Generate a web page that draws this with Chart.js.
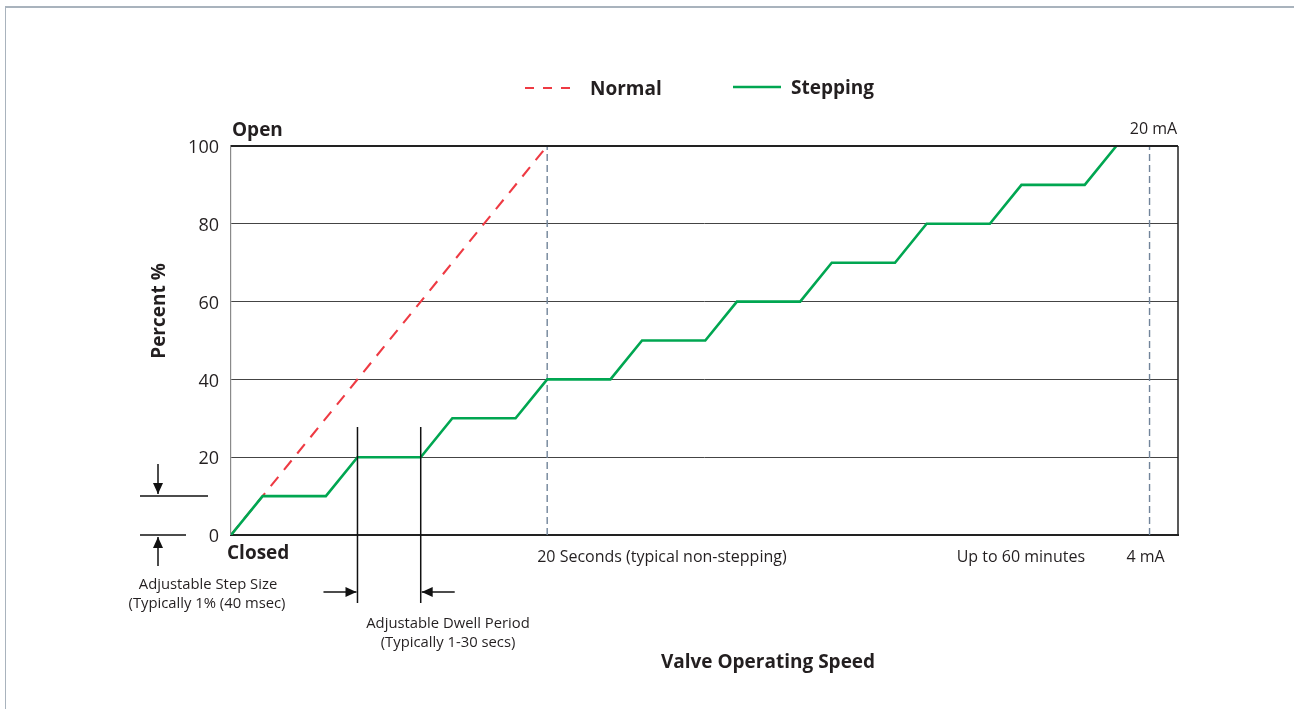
<!DOCTYPE html>
<html>
<head>
<meta charset="utf-8">
<script src="https://cdn.jsdelivr.net/npm/chart.js@4.4.1/dist/chart.umd.min.js"></script>
<style>
  body { margin: 0; background: #fff; }
  #frame { position: absolute; left: 5px; top: 6px; width: 1289px; height: 703px;
           border-top: 2px solid #a9b3bd; border-left: 1px solid #a9b3bd; box-sizing: border-box; }
  #c { position: absolute; left: 0; top: 0; }
</style>
</head>
<body>
<div id="frame"></div>
<canvas id="c" width="1294" height="709"></canvas>
<script>
// stepping curve (x in dwell units, y in percent)
const stepX = [0, 1, 3, 4, 6, 7, 9, 10, 12, 13, 15, 16, 18, 19, 21, 22, 24, 25, 27, 28];
const stepY = [0, 10, 10, 20, 20, 30, 30, 40, 40, 50, 50, 60, 60, 70, 70, 80, 80, 90, 90, 100];
// normal (non-stepping) ramp
const normalX = [0, 10];
const normalY = [0, 100];
// dashed markers: 20 seconds, 4-20 mA
const markerX = [10, 29.05];
const yTicks = [0, 20, 40, 60, 80, 100];
const xMax = 29.95;

const FONT = '"Open Sans", "Noto Sans", sans-serif';
const INK = '#231f20';

const pts = (xs, ys) => xs.map((x, i) => ({ x: x, y: ys[i] }));

const markerSets = markerX.map(x => ({
  label: 'marker',
  data: [{ x: x, y: 0 }, { x: x, y: 100 }],
  showLine: true,
  borderColor: '#71849a',
  borderWidth: 1.4,
  borderDash: [7, 4],
  pointRadius: 0,
  order: 3
}));

function arrow(ctx, x1, y1, x2, y2) {
  ctx.beginPath();
  ctx.moveTo(x1, y1);
  ctx.lineTo(x2, y2);
  ctx.stroke();
  const a = Math.atan2(y2 - y1, x2 - x1);
  const L = 11, W = 5;
  ctx.beginPath();
  ctx.moveTo(x2, y2);
  ctx.lineTo(x2 - L * Math.cos(a) + W * Math.sin(a), y2 - L * Math.sin(a) - W * Math.cos(a));
  ctx.lineTo(x2 - L * Math.cos(a) - W * Math.sin(a), y2 - L * Math.sin(a) + W * Math.cos(a));
  ctx.closePath();
  ctx.fill();
}

const extras = {
  id: 'extras',
  afterDraw(chart) {
    const ctx = chart.ctx;
    const xs = chart.scales.x, ys = chart.scales.y;
    const area = chart.chartArea;
    ctx.save();

    // top and right border of plot box
    ctx.strokeStyle = '#222';
    ctx.lineWidth = 2.2;
    ctx.beginPath();
    ctx.moveTo(area.left, area.top);
    ctx.lineTo(area.right, area.top);
    ctx.stroke();
    ctx.lineWidth = 1.5;
    ctx.beginPath();
    ctx.moveTo(area.right, area.top);
    ctx.lineTo(area.right, area.bottom);
    ctx.stroke();

    ctx.fillStyle = INK;
    ctx.strokeStyle = INK;
    ctx.textBaseline = 'middle';

    // legend
    const normal = chart.data.datasets.find(d => d.label === 'Normal');
    const stepping = chart.data.datasets.find(d => d.label === 'Stepping');
    ctx.lineWidth = 2;
    ctx.strokeStyle = normal.borderColor;
    ctx.setLineDash([9, 9]);
    ctx.beginPath(); ctx.moveTo(525, 88); ctx.lineTo(573, 88); ctx.stroke();
    ctx.setLineDash([]);
    ctx.lineWidth = 2.5;
    ctx.strokeStyle = stepping.borderColor;
    ctx.beginPath(); ctx.moveTo(733, 87); ctx.lineTo(781, 87); ctx.stroke();
    ctx.font = 'bold 19px ' + FONT;
    ctx.textAlign = 'left';
    ctx.fillText('Normal', 590, 90);
    ctx.fillText('Stepping', 791, 89);

    // end labels
    ctx.fillText('Open', area.left + 1, 131);
    ctx.fillText('Closed', area.left - 4, 554);

    // axis titles
    ctx.textAlign = 'center';
    ctx.fillText('Valve Operating Speed', 768, 663);
    ctx.save();
    ctx.translate(160, 311);
    ctx.rotate(-Math.PI / 2);
    ctx.fillText('Percent %', 0, 0);
    ctx.restore();

    // x-axis notes
    ctx.font = '16px ' + FONT;
    ctx.textAlign = 'left';
    ctx.fillText('20 Seconds (typical non-stepping)', xs.getPixelForValue(markerX[0]) - 10, 557);
    ctx.textAlign = 'right';
    ctx.fillText('Up to 60 minutes', 1085, 557);
    ctx.textAlign = 'center';
    ctx.fillText('4 mA', xs.getPixelForValue(markerX[1]) - 4, 557);
    ctx.fillText('20 mA', xs.getPixelForValue(markerX[1]) + 4, 129);

    // dwell period annotation
    ctx.strokeStyle = '#111';
    ctx.fillStyle = '#111';
    ctx.lineWidth = 1.5;
    const d1 = xs.getPixelForValue(stepX[3]), d2 = xs.getPixelForValue(stepX[4]);
    [d1, d2].forEach(px => {
      ctx.beginPath(); ctx.moveTo(px, 427); ctx.lineTo(px, 603); ctx.stroke();
    });
    arrow(ctx, d1 - 34, 592, d1 - 1, 592);
    arrow(ctx, d2 + 34, 592, d2 + 1, 592);

    // step size annotation
    const s0 = ys.getPixelForValue(0), s1 = ys.getPixelForValue(stepY[1]);
    ctx.beginPath(); ctx.moveTo(140, s1); ctx.lineTo(208, s1); ctx.stroke();
    ctx.beginPath(); ctx.moveTo(140, s0); ctx.lineTo(186, s0); ctx.stroke();
    arrow(ctx, 158, s1 - 32, 158, s1 - 2);
    arrow(ctx, 158, s0 + 31, 158, s0 + 2);

    ctx.fillStyle = INK;
    ctx.font = '14.8px ' + FONT;
    ctx.textAlign = 'center';
    ctx.fillText('Adjustable Step Size', 208, 585);
    ctx.fillText('(Typically 1% (40 msec)', 207, 604);
    ctx.fillText('Adjustable Dwell Period', 448, 624);
    ctx.fillText('(Typically 1-30 secs)', 448, 643);

    ctx.restore();
  }
};

new Chart(document.getElementById('c'), {
  type: 'scatter',
  data: {
    datasets: [
      {
        label: 'Stepping',
        data: pts(stepX, stepY),
        showLine: true,
        borderColor: '#00a651',
        borderWidth: 2.6,
        pointRadius: 0,
        order: 1
      },
      {
        label: 'Normal',
        data: pts(normalX, normalY),
        showLine: true,
        borderColor: '#ee3a43',
        borderWidth: 2.1,
        borderDash: [12, 9],
        pointRadius: 0,
        order: 2
      },
      ...markerSets
    ]
  },
  options: {
    responsive: false,
    animation: false,
    layout: { padding: { left: 131, top: 146, right: 116, bottom: 174 } },
    plugins: { legend: { display: false }, tooltip: { enabled: false } },
    scales: {
      x: {
        type: 'linear',
        min: 0,
        max: xMax,
        afterFit: s => { s.height = 0; },
        ticks: { display: false },
        grid: { display: false },
        border: { display: true, color: '#222', width: 2 }
      },
      y: {
        min: 0,
        max: 100,
        afterFit: s => { s.width = 100; },
        afterBuildTicks: s => { s.ticks = yTicks.map(v => ({ value: v })); },
        ticks: { color: INK, padding: 12, labelOffset: 2, font: { family: FONT, size: 18 } },
        grid: {
          drawTicks: false,
          color: '#444',
          lineWidth: c => (c.tick && c.tick.value === 0) ? 0 : 1
        },
        border: { display: true, color: '#8a8a8a', width: 1.2 }
      }
    }
  },
  plugins: [extras]
});
</script>
</body>
</html>
